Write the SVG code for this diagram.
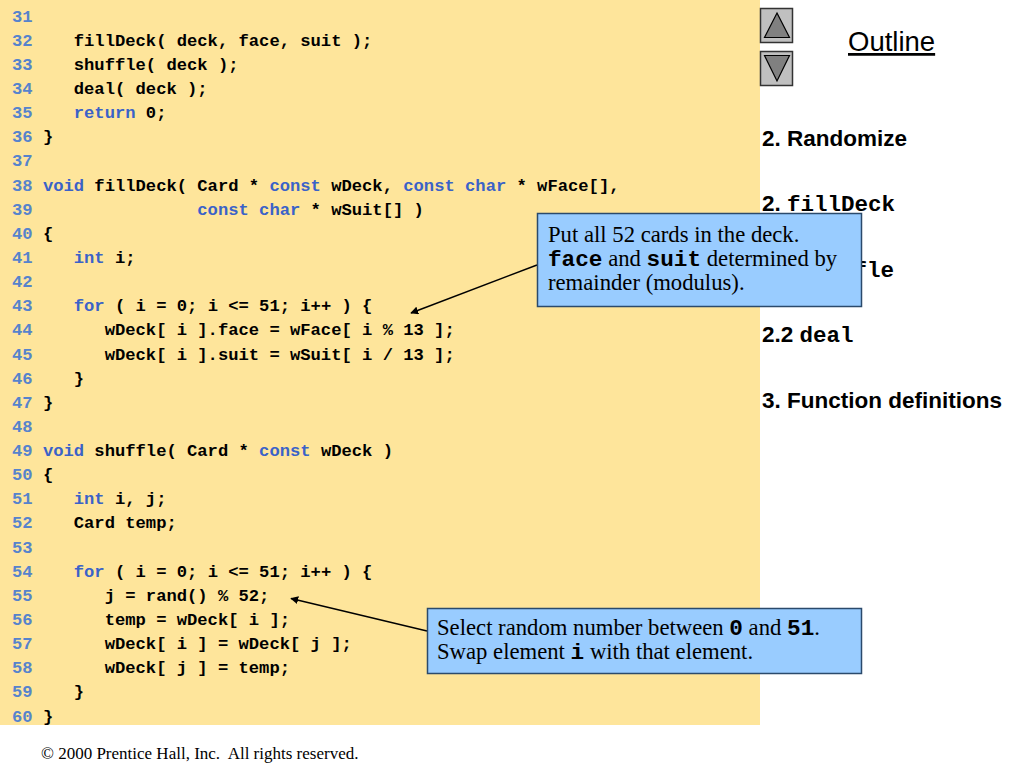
<svg xmlns="http://www.w3.org/2000/svg" width="1024" height="768" viewBox="0 0 1024 768">
<defs>
<style>
.code{font-family:"Liberation Mono","DejaVu Sans Mono",monospace;font-weight:bold;font-size:17.17px;fill:#000;white-space:pre}
.ln{fill:#5683cc}
.kw{fill:#3a62c8}
.ol{font-family:"Liberation Sans",Arial,sans-serif;font-weight:bold;font-size:22.5px;fill:#000;white-space:pre}
.olm{font-family:"Liberation Mono","DejaVu Sans Mono",monospace;font-weight:bold}
.note{font-family:"Liberation Serif","Times New Roman",serif;font-size:22.7px;fill:#000;white-space:pre}
.nm{font-family:"Liberation Mono","DejaVu Sans Mono",monospace;font-weight:bold}
.box{fill:#99ccff;stroke:#2b4a6b;stroke-width:1.5}
.btn{fill:#c0c0c0;stroke:#333;stroke-width:1.5}
.tri{fill:#808080;stroke:#000;stroke-width:1.2}
.conn{stroke:#000;stroke-width:1.5;fill:none;marker-end:url(#ah)}
.foot{font-family:"Liberation Serif","Times New Roman",serif;font-size:17px;fill:#000;white-space:pre}
</style>
<marker id="ah" viewBox="0 0 10 10" refX="9" refY="5" markerWidth="8" markerHeight="8" markerUnits="userSpaceOnUse" orient="auto">
<path d="M0,0 L10,5 L0,10 z" fill="#000"/>
</marker>
</defs>
<rect width="1024" height="768" fill="#fff"/>
<g id="code" xml:space="preserve">
<rect x="0" y="0" width="760" height="725" fill="#fee59b"/>
<text class="code" x="12" y="21.5"><tspan class="ln">31</tspan></text>
<text class="code" x="12" y="45.6"><tspan class="ln">32</tspan>    fillDeck( deck, face, suit );</text>
<text class="code" x="12" y="69.8"><tspan class="ln">33</tspan>    shuffle( deck );</text>
<text class="code" x="12" y="93.9"><tspan class="ln">34</tspan>    deal( deck );</text>
<text class="code" x="12" y="118.1"><tspan class="ln">35</tspan>    <tspan class="kw">return</tspan> 0;</text>
<text class="code" x="12" y="142.2"><tspan class="ln">36</tspan> }</text>
<text class="code" x="12" y="166.3"><tspan class="ln">37</tspan></text>
<text class="code" x="12" y="190.5"><tspan class="ln">38</tspan> <tspan class="kw">void</tspan> fillDeck( Card * <tspan class="kw">const</tspan> wDeck, <tspan class="kw">const</tspan> <tspan class="kw">char</tspan> * wFace[],</text>
<text class="code" x="12" y="214.6"><tspan class="ln">39</tspan>                <tspan class="kw">const</tspan> <tspan class="kw">char</tspan> * wSuit[] )</text>
<text class="code" x="12" y="238.8"><tspan class="ln">40</tspan> {</text>
<text class="code" x="12" y="262.9"><tspan class="ln">41</tspan>    <tspan class="kw">int</tspan> i;</text>
<text class="code" x="12" y="287.0"><tspan class="ln">42</tspan></text>
<text class="code" x="12" y="311.2"><tspan class="ln">43</tspan>    <tspan class="kw">for</tspan> ( i = 0; i &lt;= 51; i++ ) {</text>
<text class="code" x="12" y="335.3"><tspan class="ln">44</tspan>       wDeck[ i ].face = wFace[ i % 13 ];</text>
<text class="code" x="12" y="359.5"><tspan class="ln">45</tspan>       wDeck[ i ].suit = wSuit[ i / 13 ];</text>
<text class="code" x="12" y="383.6"><tspan class="ln">46</tspan>    }</text>
<text class="code" x="12" y="407.7"><tspan class="ln">47</tspan> }</text>
<text class="code" x="12" y="431.9"><tspan class="ln">48</tspan></text>
<text class="code" x="12" y="456.0"><tspan class="ln">49</tspan> <tspan class="kw">void</tspan> shuffle( Card * <tspan class="kw">const</tspan> wDeck )</text>
<text class="code" x="12" y="480.2"><tspan class="ln">50</tspan> {</text>
<text class="code" x="12" y="504.3"><tspan class="ln">51</tspan>    <tspan class="kw">int</tspan> i, j;</text>
<text class="code" x="12" y="528.4"><tspan class="ln">52</tspan>    Card temp;</text>
<text class="code" x="12" y="552.6"><tspan class="ln">53</tspan></text>
<text class="code" x="12" y="576.7"><tspan class="ln">54</tspan>    <tspan class="kw">for</tspan> ( i = 0; i &lt;= 51; i++ ) {</text>
<text class="code" x="12" y="600.9"><tspan class="ln">55</tspan>       j = rand() % 52;</text>
<text class="code" x="12" y="625.0"><tspan class="ln">56</tspan>       temp = wDeck[ i ];</text>
<text class="code" x="12" y="649.1"><tspan class="ln">57</tspan>       wDeck[ i ] = wDeck[ j ];</text>
<text class="code" x="12" y="673.3"><tspan class="ln">58</tspan>       wDeck[ j ] = temp;</text>
<text class="code" x="12" y="697.4"><tspan class="ln">59</tspan>    }</text>
<text class="code" x="12" y="721.6"><tspan class="ln">60</tspan> }</text>
</g>
<g id="nav-up">
<rect class="btn" x="760.5" y="8.5" width="32" height="34"/>
<path class="tri" d="M777,13 L789.5,37.5 L764.5,37.5 Z"/>
</g>
<g id="nav-down">
<rect class="btn" x="760.5" y="51.5" width="32" height="34"/>
<path class="tri" d="M764.5,55.5 L789.5,55.5 L777,81 Z"/>
</g>
<g id="outline" xml:space="preserve">
<text x="848" y="51" font-family="Liberation Sans, Arial, sans-serif" font-size="27.5" fill="#000" text-decoration="underline">Outline</text>
<text class="ol" x="762" y="146">2. Randomize</text>
<text class="ol" x="762" y="211">2. <tspan class="olm">fillDeck</tspan></text>
<text class="ol" x="762" y="277">2.1 <tspan class="olm">shuffle</tspan></text>
<text class="ol" x="762" y="342">2.2 <tspan class="olm">deal</tspan></text>
<text class="ol" x="762" y="408">3. Function definitions</text>
</g>
<g id="connectors">
<line class="conn" x1="537" y1="265" x2="411" y2="313"/>
<line class="conn" x1="427" y1="631" x2="291" y2="598.5"/>
</g>
<g id="note-filldeck" xml:space="preserve">
<rect class="box" x="537.5" y="213.5" width="324" height="93"/>
<text class="note" x="548" y="242">Put all 52 cards in the deck.</text>
<text class="note" x="548" y="266"><tspan class="nm">face</tspan> and <tspan class="nm">suit</tspan> determined by</text>
<text class="note" x="548" y="290">remainder (modulus).</text>
</g>
<g id="note-shuffle" xml:space="preserve">
<rect class="box" x="427.5" y="608.5" width="434" height="65"/>
<text class="note" x="437" y="635">Select random number between <tspan class="nm">0</tspan> and <tspan class="nm">51</tspan>.</text>
<text class="note" x="437" y="659">Swap element <tspan class="nm">i</tspan> with that element.</text>
</g>
<g id="footer" xml:space="preserve">
<text class="foot" x="41" y="759">© 2000 Prentice Hall, Inc.&#160; All rights reserved.</text>
</g>
</svg>
